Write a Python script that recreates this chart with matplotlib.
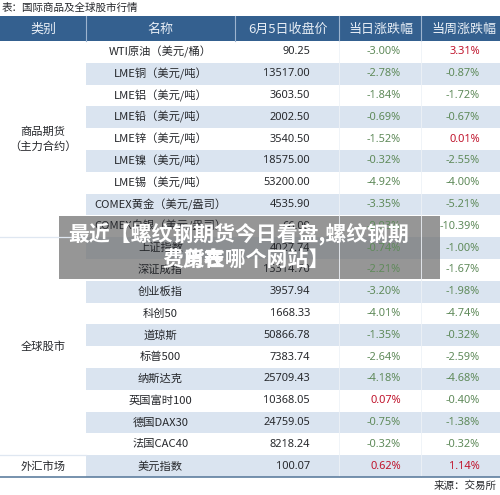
import matplotlib
matplotlib.use('Agg')
import matplotlib.pyplot as plt
from matplotlib.patches import Rectangle

plt.rcParams['font.family'] = ['Noto Sans CJK SC', 'DejaVu Sans']

title_note = '表：国际商品及全球股市行情'
source_note = '来源：交易所'
headers = ['类别', '名称', '6月5日收盘价', '当日涨跌幅', '当周涨跌幅']
names = ['WTI原油（美元/桶）', 'LME铜（美元/吨）', 'LME铝（美元/吨）', 'LME铅（美元/吨）',
         'LME锌（美元/吨）', 'LME镍（美元/吨）', 'LME锡（美元/吨）', 'COMEX黄金（美元/盎司）',
         'COMEX白银（美元/盎司）', '上证指数', '深证成指', '创业板指', '科创50', '道琼斯',
         '标普500', '纳斯达克', '英国富时100', '德国DAX30', '法国CAC40', '美元指数']
prices = ['90.25', '13517.00', '3603.50', '2002.50', '3540.50', '18575.00', '53200.00',
          '4535.90', '66.09', '4027.74', '15314.70', '3957.94', '1668.33', '50866.78',
          '7383.74', '25709.43', '10368.05', '24759.05', '8218.24', '100.07']
daily = ['-3.00%', '-2.78%', '-1.84%', '-0.69%', '-1.52%', '-0.32%', '-4.92%', '-3.35%',
         '-9.93%', '-0.74%', '-2.21%', '-3.20%', '-4.01%', '-1.35%', '-2.64%', '-4.18%',
         '0.07%', '-0.75%', '-0.32%', '0.62%']
weekly = ['3.31%', '-0.87%', '-1.72%', '-0.67%', '0.01%', '-2.55%', '-4.00%', '-5.21%',
          '-10.39%', '-1.00%', '-1.67%', '-1.98%', '-4.74%', '-0.32%', '-2.59%', '-4.68%',
          '-0.40%', '-1.38%', '-0.32%', '1.14%']
groups = [('商品期货\n（主力合约）', 0, 9), ('全球股市', 9, 19), ('外汇市场', 19, 20)]
banner_line1 = '最近【螺纹钢期货今日看盘,螺纹钢期'
banner_line2 = '货在哪个网站】'
banner_over = '费用表'

HEAD = '#34608f'; BAND = '#dae4f0'; INK = '#26282c'; GREEN = '#5f8a5a'; RED = '#c0142c'
col_x = [0, 86, 235, 339, 421, 500]
top, head_bottom, row_h = 16, 41, 21.8
fs = 8.1
num_font = 'Noto Sans'
head_nudge = [0, 0, 1, 1, 3]

fig = plt.figure(figsize=(5, 4.95), dpi=100)
ax = fig.add_axes([0, 0, 1, 1])
ax.set_xlim(0, 500); ax.set_ylim(495, 0); ax.axis('off')

ax.text(2, 8, title_note, fontsize=7.6, color=INK, va='center', ha='left')
ax.add_patch(Rectangle((0, top), 500, head_bottom - top, color=HEAD, lw=0))
for i, h in enumerate(headers):
    ax.text((col_x[i] + col_x[i + 1]) / 2 + head_nudge[i], 29, h, color='#e6edf5',
            fontsize=9.4, ha='center', va='center')
for x in col_x[1:-1]:
    ax.plot([x, x], [top, head_bottom], color='#9db4cf', lw=0.8)

def cy(i):
    return head_bottom + row_h * (i + 0.5)

for i, n in enumerate(names):
    if i % 2 == 1:
        ax.add_patch(Rectangle((86, head_bottom + i * row_h), 414, row_h, color=BAND, lw=0))
    ax.text(160.5, cy(i), n, fontsize=fs, color=INK, ha='center', va='center')
    ax.text(310, cy(i), prices[i], fontsize=7.9, color=INK, ha='right', va='center', family=num_font)
    for vals, xr in ((daily, 401), (weekly, 480)):
        c = RED if not vals[i].startswith('-') else GREEN
        ax.text(xr, cy(i), vals[i], fontsize=7.9, color=c, ha='right', va='center', family=num_font)

for x in (339, 421):
    ax.plot([x, x], [head_bottom, head_bottom + 20 * row_h], color='#eef2f7', lw=0.6)

for g, a, b in groups:
    ax.text(43, head_bottom + row_h * (a + b) / 2, g, fontsize=fs, color=INK, ha='center', va='center', linespacing=1.5)
    if b < 20:
        ax.plot([0, 86], [head_bottom + b * row_h] * 2, color='#dfe7f1', lw=0.9)
ax.plot([0, 500], [head_bottom + 20 * row_h] * 2, color='#5f7f9f', lw=1.2)
ax.text(497, 486, source_note, fontsize=7.6, color=INK, ha='right', va='center')

ax.add_patch(Rectangle((59, 216), 381, 63, color='#6e6e6e', alpha=0.72, lw=0))
ax.text(68, 233.5, banner_line1, fontsize=15, fontweight='bold', color='white', ha='left', va='center')
ax.text(183, 260.5, banner_line2, fontsize=15, fontweight='bold', color='white', ha='left', va='center')
ax.text(162, 260.5, banner_over, fontsize=15, fontweight='bold', color='white', ha='left', va='center')

fig.savefig('out.png', dpi=100)
